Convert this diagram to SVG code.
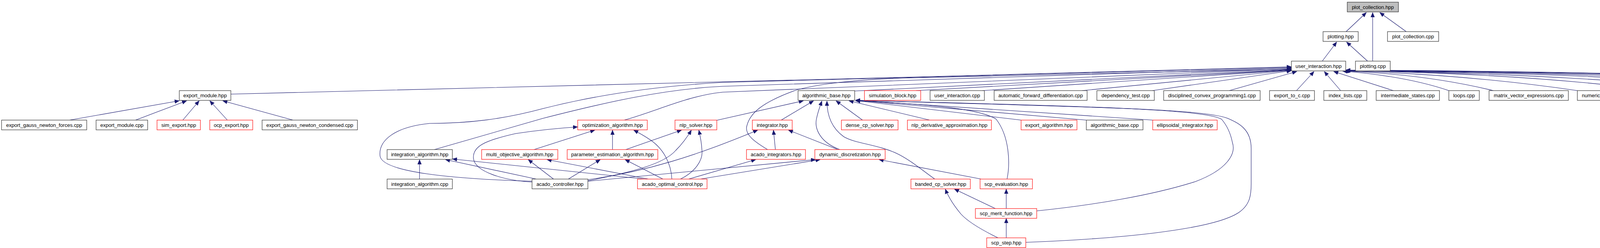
<svg xmlns="http://www.w3.org/2000/svg" width="5555" height="635" viewBox="0 0 5555 635">
<style>
.n rect{fill:#fff;stroke:#404040;stroke-width:1.3}
.r rect{fill:#fff;stroke:#ff2020;stroke-width:1.3}
.g rect{fill:#bfbfbf;stroke:#404040;stroke-width:1.3}
text{font-family:"Liberation Sans",Arial,Helvetica,sans-serif;font-size:13px;fill:#000;text-anchor:middle}
.e path{fill:none;stroke:#191970;stroke-width:1.1;marker-end:url(#a)}
</style>
<defs>
<marker id="a" viewBox="0 0 12 10" refX="12" refY="5" markerWidth="12" markerHeight="10" markerUnits="userSpaceOnUse" orient="auto"><path d="M0,0 L12,5 L0,10 z" fill="#191970" stroke="#191970" stroke-width="0.5"/></marker>
</defs>
<rect width="5555" height="635" fill="#fff"/>
<g class="e" id="edges">
<path d="M3446,81 L3498,32"/>
<path d="M3514,156.5 L3514,32"/>
<path d="M3600,81 L3532,32"/>
<path d="M3385,156.5 L3422,107.5"/>
<path d="M3501,156.5 L3447,107.5"/>
<path d="M591,241 C1200,228 2400,196 3306,171"/>
<path d="M1362,464 C1150,458 980,440 973,400 C968,360 1010,325 1100,316 C1200,316 1290,305 1390,278 C1500,250 1650,222 1850,211 L3306,172.5"/>
<path d="M1112,383 L1390,303 C1550,262 1700,228 1850,221 L3306,174"/>
<path d="M1598,307.5 C1680,285 1760,245 1850,236 L3306,176"/>
<path d="M1965,383 C1935,365 1905,345 1912,322 C1920,290 1950,262 2040,230 C2110,212 2200,204 2310,200 L3306,177"/>
<path d="M2188,233 L3306,178"/>
<path d="M2345,232 L3306,179"/>
<path d="M2515,232 L3306,179.5"/>
<path d="M2770,232 L3306,180"/>
<path d="M2950,232 L3306,181"/>
<path d="M3147,232 L3320,183"/>
<path d="M3319,232 L3364,183"/>
<path d="M3432,232 L3390,183"/>
<path d="M3567,232 L3414,183"/>
<path d="M3709,232 Q3600,195 3437,182"/>
<path d="M3823,232 Q3650,190 3440,182"/>
<path d="M4038,232 Q3750,190 3441,181.5"/>
<path d="M4242,232 Q3900,188 3442,181"/>
<path d="M4432,232 Q4000,188 3443,181"/>
<path d="M4647,232 Q4100,186 3444,181"/>
<path d="M4862,232 Q4200,186 3445,180.5"/>
<path d="M5076,232 Q4300,185 3445,180"/>
<path d="M5302,232 Q4350,184 3445,180"/>
<path d="M5453,232 Q4400,184 3445,179.5"/>
<path d="M178,307.5 L459,258"/>
<path d="M347,307.5 L478,258"/>
<path d="M468,307.5 L510,258"/>
<path d="M582,307.5 L537,258"/>
<path d="M750,307.5 L570,258"/>
<path d="M1835,308 L2057,258"/>
<path d="M2000,307.5 L2083,258"/>
<path d="M2150,383 C2100,365 2085,330 2090,305 C2094,285 2100,270 2104,258.5"/>
<path d="M2393,458.5 C2360,435 2330,410 2300,395 C2250,370 2190,368 2160,350 C2125,325 2117,290 2117,258.5"/>
<path d="M2208,307.5 L2140,258"/>
<path d="M2380,307.5 L2173,258"/>
<path d="M2614,307.5 L2190,257.5"/>
<path d="M2781,307.5 L2190,257"/>
<path d="M2951,307.5 L2190,256.5"/>
<path d="M2578,458.5 C2586,420 2585,350 2550,305 C2510,280 2400,268 2190,258"/>
<path d="M2654,540 C2800,525 2950,500 3060,465 C3140,435 3165,395 3155,365 C3150,340 3140,320 3127,305 C3080,280 2800,272 2190,257"/>
<path d="M2626,620.5 C2850,612 3100,590 3170,545 C3200,525 3203,500 3203,471 L3203,380 C3203,330 3170,315 3143,303 C3080,278 2800,275 2190,256.5"/>
<path d="M1505,460 C1650,440 1780,400 1940,333"/>
<path d="M1985,383 L1980,333"/>
<path d="M2145,383 L2018,333"/>
<path d="M1362,466 C1290,462 1215,440 1212,405 C1210,375 1240,360 1320,342 C1380,333 1430,328 1479,325"/>
<path d="M1367,383 L1523,333"/>
<path d="M1568,383 L1568,333"/>
<path d="M1720,458.5 C1718,420 1700,380 1660,355 C1645,345 1635,340 1622,333"/>
<path d="M1602,383 L1745,333"/>
<path d="M1505,463 C1620,440 1700,420 1730,385 C1745,370 1760,350 1770,333"/>
<path d="M1742,458.5 C1780,440 1800,410 1797,385 C1796,365 1793,350 1789,333"/>
<path d="M1455,458.5 L1537,408.5"/>
<path d="M1697,458.5 L1600,408.5"/>
<path d="M1417,458.5 L1352,408.5"/>
<path d="M1660,458.5 L1400,408.5"/>
<path d="M1074,458.5 L1074,408.5"/>
<path d="M1373,458.5 L1140,408.5"/>
<path d="M1650,458.5 L1158,407"/>
<path d="M1505,464 L2088,408.5"/>
<path d="M1793,458.5 L2100,408.5"/>
<path d="M2512,458.5 L2250,408.5"/>
<path d="M1763,458.5 L1935,408.5"/>
<path d="M2548,534 L2443,484"/>
<path d="M2555,609 C2520,592 2480,570 2460,548 C2445,530 2430,510 2420,484"/>
<path d="M2576,534 L2576,484"/>
<path d="M2576,609 L2576,559"/>
</g>
<g class="g" id="plot_collection_hpp"><rect x="3449" y="5.5" width="131" height="25"/><text x="3514.5" y="22.5">plot_collection.hpp</text></g>
<g class="n" id="plotting_hpp"><rect x="3387" y="81" width="90" height="25"/><text x="3432" y="98">plotting.hpp</text></g>
<g class="n" id="plot_collection_cpp"><rect x="3552" y="81" width="131" height="25"/><text x="3617.5" y="98">plot_collection.cpp</text></g>
<g class="n" id="user_interaction_hpp"><rect x="3306" y="156.5" width="139" height="25"/><text x="3375.5" y="173.5">user_interaction.hpp</text></g>
<g class="n" id="plotting_cpp"><rect x="3470" y="156.5" width="89" height="25"/><text x="3514.5" y="173.5">plotting.cpp</text></g>
<g class="n" id="export_module_hpp"><rect x="459" y="232" width="132" height="25"/><text x="525" y="249">export_module.hpp</text></g>
<g class="n" id="algorithmic_base_hpp"><rect x="2043" y="232" width="145" height="25"/><text x="2115.5" y="249">algorithmic_base.hpp</text></g>
<g class="r" id="simulation_block_hpp"><rect x="2213" y="232" width="144" height="25"/><text x="2285" y="249">simulation_block.hpp</text></g>
<g class="n" id="user_interaction_cpp"><rect x="2381" y="232" width="139" height="25"/><text x="2450.5" y="249">user_interaction.cpp</text></g>
<g class="n" id="automatic_forward_differentiation_cpp"><rect x="2545" y="232" width="238" height="25"/><text x="2664" y="249">automatic_forward_differentiation.cpp</text></g>
<g class="n" id="dependency_test_cpp"><rect x="2808" y="232" width="147" height="25"/><text x="2881.5" y="249">dependency_test.cpp</text></g>
<g class="n" id="disciplined_convex_programming1_cpp"><rect x="2979" y="232" width="247" height="25"/><text x="3102.5" y="249">disciplined_convex_programming1.cpp</text></g>
<g class="n" id="export_to_c_cpp"><rect x="3250" y="232" width="115" height="25"/><text x="3307.5" y="249">export_to_c.cpp</text></g>
<g class="n" id="index_lists_cpp"><rect x="3389" y="232" width="110" height="25"/><text x="3444" y="249">index_lists.cpp</text></g>
<g class="n" id="intermediate_states_cpp"><rect x="3523" y="232" width="162" height="25"/><text x="3604" y="249">intermediate_states.cpp</text></g>
<g class="n" id="loops_cpp"><rect x="3709" y="232" width="78" height="25"/><text x="3748" y="249">loops.cpp</text></g>
<g class="n" id="matrix_vector_expressions_cpp"><rect x="3812" y="232" width="203" height="25"/><text x="3913.5" y="249">matrix_vector_expressions.cpp</text></g>
<g class="n" id="numeric_differentiation_cpp"><rect x="4038" y="232" width="179" height="25"/><text x="4127.5" y="249">numeric_differentiation.cpp</text></g>
<g class="n" id="simple_function_test_cpp"><rect x="4242" y="232" width="167" height="25"/><text x="4325.5" y="249">simple_function_test.cpp</text></g>
<g class="n" id="symbolic_differentiation1_cpp"><rect x="4432" y="232" width="191" height="25"/><text x="4527.5" y="249">symbolic_differentiation1.cpp</text></g>
<g class="n" id="symbolic_differentiation2_cpp"><rect x="4647" y="232" width="191" height="25"/><text x="4742.5" y="249">symbolic_differentiation2.cpp</text></g>
<g class="n" id="symbolic_differentiation3_cpp"><rect x="4862" y="232" width="191" height="25"/><text x="4957.5" y="249">symbolic_differentiation3.cpp</text></g>
<g class="n" id="symbolic_matrix_inversion_cpp"><rect x="5076" y="232" width="202" height="25"/><text x="5177" y="249">symbolic_matrix_inversion.cpp</text></g>
<g class="n" id="symmetricAD_cpp"><rect x="5302" y="232" width="127" height="25"/><text x="5365.5" y="249">symmetricAD.cpp</text></g>
<g class="n" id="matrices_cpp"><rect x="5453" y="232" width="97" height="25"/><text x="5501.5" y="249">matrices.cpp</text></g>
<g class="n" id="export_gauss_newton_forces_cpp"><rect x="4" y="307.5" width="218" height="25"/><text x="113" y="324.5">export_gauss_newton_forces.cpp</text></g>
<g class="n" id="export_module_cpp"><rect x="246" y="307.5" width="132" height="25"/><text x="312" y="324.5">export_module.cpp</text></g>
<g class="r" id="sim_export_hpp"><rect x="402" y="307.5" width="111" height="25"/><text x="457.5" y="324.5">sim_export.hpp</text></g>
<g class="r" id="ocp_export_hpp"><rect x="537" y="307.5" width="110" height="25"/><text x="592" y="324.5">ocp_export.hpp</text></g>
<g class="n" id="export_gauss_newton_condensed_cpp"><rect x="671" y="307.5" width="244" height="25"/><text x="793" y="324.5">export_gauss_newton_condensed.cpp</text></g>
<g class="r" id="optimization_algorithm_hpp"><rect x="1479" y="307.5" width="178" height="25"/><text x="1568" y="324.5">optimization_algorithm.hpp</text></g>
<g class="r" id="nlp_solver_hpp"><rect x="1728" y="307.5" width="107" height="25"/><text x="1781.5" y="324.5">nlp_solver.hpp</text></g>
<g class="r" id="integrator_hpp"><rect x="1926" y="307.5" width="102" height="25"/><text x="1977" y="324.5">integrator.hpp</text></g>
<g class="r" id="dense_cp_solver_hpp"><rect x="2154" y="307.5" width="145" height="25"/><text x="2226.5" y="324.5">dense_cp_solver.hpp</text></g>
<g class="r" id="nlp_derivative_approximation_hpp"><rect x="2323" y="307.5" width="215" height="25"/><text x="2430.5" y="324.5">nlp_derivative_approximation.hpp</text></g>
<g class="r" id="export_algorithm_hpp"><rect x="2614" y="307.5" width="143" height="25"/><text x="2685.5" y="324.5">export_algorithm.hpp</text></g>
<g class="n" id="algorithmic_base_cpp"><rect x="2781" y="307.5" width="145" height="25"/><text x="2853.5" y="324.5">algorithmic_base.cpp</text></g>
<g class="r" id="ellipsoidal_integrator_hpp"><rect x="2951" y="307.5" width="165" height="25"/><text x="3033.5" y="324.5">ellipsoidal_integrator.hpp</text></g>
<g class="n" id="integration_algorithm_hpp"><rect x="991" y="383" width="167" height="25"/><text x="1074.5" y="400">integration_algorithm.hpp</text></g>
<g class="r" id="multi_objective_algorithm_hpp"><rect x="1233" y="383" width="195" height="25"/><text x="1330.5" y="400">multi_objective_algorithm.hpp</text></g>
<g class="r" id="parameter_estimation_algorithm_hpp"><rect x="1452" y="383" width="232" height="25"/><text x="1568" y="400">parameter_estimation_algorithm.hpp</text></g>
<g class="r" id="acado_integrators_hpp"><rect x="1911" y="383" width="151" height="25"/><text x="1986.5" y="400">acado_integrators.hpp</text></g>
<g class="r" id="dynamic_discretization_hpp"><rect x="2086" y="383" width="180" height="25"/><text x="2176" y="400">dynamic_discretization.hpp</text></g>
<g class="n" id="integration_algorithm_cpp"><rect x="991" y="458.5" width="167" height="25"/><text x="1074.5" y="475.5">integration_algorithm.cpp</text></g>
<g class="n" id="acado_controller_hpp"><rect x="1362" y="458.5" width="143" height="25"/><text x="1433.5" y="475.5">acado_controller.hpp</text></g>
<g class="r" id="acado_optimal_control_hpp"><rect x="1632" y="458.5" width="178" height="25"/><text x="1721" y="475.5">acado_optimal_control.hpp</text></g>
<g class="r" id="banded_cp_solver_hpp"><rect x="2332" y="458.5" width="152" height="25"/><text x="2408" y="475.5">banded_cp_solver.hpp</text></g>
<g class="r" id="scp_evaluation_hpp"><rect x="2509" y="458.5" width="134" height="25"/><text x="2576" y="475.5">scp_evaluation.hpp</text></g>
<g class="r" id="scp_merit_function_hpp"><rect x="2497" y="534" width="157" height="25"/><text x="2575.5" y="551">scp_merit_function.hpp</text></g>
<g class="r" id="scp_step_hpp"><rect x="2526" y="609" width="100" height="25"/><text x="2576" y="626">scp_step.hpp</text></g>
</svg>
